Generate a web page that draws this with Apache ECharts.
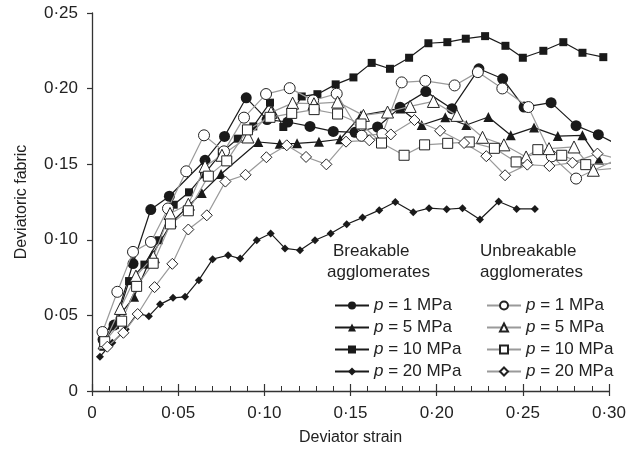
<!DOCTYPE html>
<html>
<head>
<meta charset="utf-8">
<script src="https://cdn.jsdelivr.net/npm/echarts@6/dist/echarts.min.js"></script>
<style>
  html, body { margin: 0; padding: 0; background: #fff; }
  #chart-container { width: 643px; height: 457px; }
</style>
</head>
<body>
<div id="chart-container"></div>
<script>
// values (strain, fabric)
const pressures = [1, 5, 10, 20];

const b1Strain = [0.0064, 0.0128, 0.0238, 0.0341, 0.0449, 0.0656, 0.0769, 0.0895, 0.1016, 0.1136, 0.1265, 0.1400, 0.1526, 0.1657, 0.1788, 0.1937, 0.2089, 0.2245, 0.2383, 0.2507, 0.2664, 0.2809, 0.2938, 0.3035];
const b1Fabric = [0.034, 0.0436, 0.0843, 0.120, 0.1288, 0.1526, 0.1684, 0.1939, 0.1795, 0.1779, 0.175, 0.1717, 0.1711, 0.1746, 0.1876, 0.198, 0.1867, 0.2131, 0.2065, 0.1878, 0.1907, 0.1755, 0.1695, 0.1638];

const b5Strain = [0.007, 0.0116, 0.0244, 0.0348, 0.0464, 0.0637, 0.0749, 0.0965, 0.1089, 0.119, 0.1317, 0.144, 0.1561, 0.1789, 0.1913, 0.205, 0.2172, 0.23, 0.243, 0.2565, 0.2703, 0.2846, 0.2942];
const b5Fabric = [0.030, 0.0436, 0.0623, 0.0898, 0.1116, 0.131, 0.1435, 0.1647, 0.1635, 0.1638, 0.1648, 0.1665, 0.1823, 0.1869, 0.1759, 0.181, 0.1759, 0.1812, 0.1691, 0.1742, 0.1686, 0.1691, 0.153];

const b10Strain = [0.0064, 0.0133, 0.0215, 0.0304, 0.0387, 0.0474, 0.0563, 0.065, 0.0753, 0.0846, 0.0936, 0.1033, 0.111, 0.1217, 0.1308, 0.1414, 0.1517, 0.1623, 0.1729, 0.184, 0.1952, 0.2062, 0.2169, 0.2281, 0.2399, 0.25, 0.2619, 0.2735, 0.2846, 0.2967];
const b10Fabric = [0.0317, 0.0436, 0.0727, 0.0836, 0.0997, 0.1232, 0.1314, 0.1433, 0.1579, 0.1669, 0.175, 0.1907, 0.1746, 0.1948, 0.1963, 0.2028, 0.2074, 0.217, 0.2131, 0.2204, 0.23, 0.2307, 0.233, 0.2347, 0.2283, 0.2204, 0.225, 0.2307, 0.2237, 0.2208];

const b20Strain = [0.0046, 0.0118, 0.0196, 0.0263, 0.033, 0.0395, 0.047, 0.054, 0.062, 0.070, 0.079, 0.086, 0.0956, 0.1037, 0.112, 0.1207, 0.1294, 0.1385, 0.1478, 0.157, 0.1667, 0.176, 0.1864, 0.1956, 0.2058, 0.215, 0.2251, 0.236, 0.2464, 0.257];
const b20Fabric = [0.0227, 0.0319, 0.0408, 0.0513, 0.0495, 0.0573, 0.0616, 0.0623, 0.0733, 0.0872, 0.0898, 0.0876, 0.0997, 0.1042, 0.0943, 0.0931, 0.0997, 0.1042, 0.1103, 0.1147, 0.1196, 0.125, 0.1182, 0.1209, 0.1202, 0.1209, 0.1134, 0.1253, 0.1204, 0.1204];

const u1Strain = [0.0061, 0.0147, 0.0238, 0.0342, 0.0441, 0.0547, 0.065, 0.0766, 0.0882, 0.101, 0.1147, 0.1283, 0.142, 0.1565, 0.1685, 0.1797, 0.1934, 0.2104, 0.2239, 0.2381, 0.2532, 0.2668, 0.2809, 0.3035];
const u1Fabric = [0.039, 0.0656, 0.092, 0.0986, 0.1207, 0.1453, 0.1691, 0.1585, 0.1808, 0.1964, 0.2003, 0.1922, 0.1966, 0.1688, 0.17, 0.2041, 0.2051, 0.2021, 0.2109, 0.2001, 0.1878, 0.1552, 0.1405, 0.1526];

const u5Strain = [0.007, 0.0165, 0.0255, 0.0356, 0.0453, 0.0559, 0.0656, 0.0754, 0.0905, 0.1039, 0.1164, 0.1288, 0.1425, 0.1575, 0.1715, 0.1846, 0.1981, 0.2117, 0.2266, 0.239, 0.2519, 0.2652, 0.2797, 0.2909, 0.3041];
const u5Fabric = [0.0317, 0.0546, 0.076, 0.0887, 0.1174, 0.1235, 0.1486, 0.1559, 0.168, 0.1843, 0.1904, 0.19, 0.1911, 0.1823, 0.1845, 0.1882, 0.1915, 0.1823, 0.1678, 0.1628, 0.1548, 0.1603, 0.1614, 0.146, 0.1473];

const u10Strain = [0.0074, 0.0172, 0.0259, 0.0355, 0.0455, 0.0559, 0.0675, 0.0782, 0.0902, 0.1033, 0.1159, 0.1289, 0.1425, 0.1561, 0.168, 0.1811, 0.193, 0.2064, 0.2189, 0.2335, 0.2461, 0.2587, 0.2726, 0.2865, 0.3041];
const u10Fabric = [0.0326, 0.0462, 0.0692, 0.0845, 0.1105, 0.1192, 0.1421, 0.1522, 0.1727, 0.181, 0.1836, 0.1861, 0.1832, 0.1766, 0.164, 0.1559, 0.1628, 0.1638, 0.1647, 0.1605, 0.1515, 0.1596, 0.1559, 0.1497, 0.1506];

const u20Strain = [0.0089, 0.0182, 0.0265, 0.0363, 0.0466, 0.0559, 0.0666, 0.0774, 0.0891, 0.1012, 0.113, 0.1242, 0.136, 0.1474, 0.1609, 0.1734, 0.1871, 0.202, 0.2159, 0.2288, 0.2397, 0.2526, 0.2654, 0.2788, 0.2933, 0.3041];
const u20Fabric = [0.0293, 0.0385, 0.0509, 0.0687, 0.0841, 0.1068, 0.1162, 0.1385, 0.143, 0.1546, 0.1625, 0.1548, 0.1499, 0.1649, 0.1658, 0.1697, 0.1792, 0.1721, 0.164, 0.1553, 0.1427, 0.1497, 0.1488, 0.151, 0.157, 0.1539];

const yTicks = [0, 0.05, 0.10, 0.15, 0.20, 0.25];

const FONT = 'Liberation Sans, Arial, sans-serif';
const BLACK = '#1a1a1a';
const GREY = '#9a9a9a';

// points past the axis end only carry the line on to the frame edge
const pts = (xs, ys) => xs.map((x, i) => x > 0.30
    ? { value: [x, ys[i]], symbol: 'none' }
    : [x, ys[i]]);

const makeSeries = (name, xs, ys, symbol, size, open) => ({
    name: name,
    type: 'line',
    data: pts(xs, ys),
    symbol: symbol,
    symbolSize: size,
    showAllSymbol: true,
    clip: false,
    lineStyle: { color: open ? GREY : BLACK, width: 1.2 },
    itemStyle: open
        ? { color: '#fff', borderColor: '#222', borderWidth: 1 }
        : { color: BLACK, borderWidth: 0 },
    emphasis: { disabled: true },
    z: open ? 3 : 2
});

const legendText = (name) => '{i|p} = ' + name.slice(1) + ' MPa';
const legendRich = { i: { fontStyle: 'italic', fontSize: 17, fontFamily: FONT, color: '#222' } };

var chartDom = document.getElementById('chart-container');
var myChart = echarts.init(chartDom);
var option;

option = {
    animation: false,
    backgroundColor: '#fff',
    grid: { left: 92, right: 34, top: 13, bottom: 66 },
    xAxis: [
        {
            type: 'value',
            min: 0,
            max: 0.30,
            interval: 0.05,
            name: 'Deviator strain',
            nameLocation: 'middle',
            nameGap: 39,
            nameTextStyle: { fontFamily: FONT, fontSize: 16, color: '#222' },
            axisLine: { lineStyle: { color: '#333', width: 1.3 } },
            axisTick: { inside: true, length: 7, lineStyle: { color: '#333', width: 1.2 } },
            minorTick: { show: true, splitNumber: 5, length: 5, lineStyle: { color: '#333', width: 1 } },
            splitLine: { show: false },
            axisLabel: {
                margin: 14,
                fontFamily: FONT, fontSize: 17, color: '#222',
                formatter: v => v === 0 ? '0' : v.toFixed(2).replace('.', '\u00b7')
            }
        },
        {
            // downward half of the major ticks
            type: 'value',
            min: 0,
            max: 0.30,
            interval: 0.05,
            position: 'bottom',
            axisLine: { show: false },
            axisTick: { inside: false, length: 5, lineStyle: { color: '#333', width: 1.2 } },
            axisLabel: { show: false },
            splitLine: { show: false }
        }
    ],
    yAxis: {
        type: 'value',
        min: yTicks[0],
        max: yTicks[yTicks.length - 1],
        interval: 0.05,
        name: 'Deviatoric fabric',
        nameLocation: 'middle',
        nameGap: 62,
        nameTextStyle: { fontFamily: FONT, fontSize: 16, color: '#222' },
        axisLine: { show: true, lineStyle: { color: '#333', width: 1.3 } },
        axisTick: { show: true, length: 5, lineStyle: { color: '#333', width: 1.2 } },
        splitLine: { show: false },
        axisLabel: {
            margin: 14,
            fontFamily: FONT, fontSize: 17, color: '#222',
            formatter: v => v === 0 ? '0' : v.toFixed(2).replace('.', '\u00b7')
        }
    },
    legend: [
        {
            data: ['b1', 'b5', 'b10', 'b20'],
            orient: 'vertical',
            left: 329, top: 292,
            itemWidth: 34, itemHeight: 10, itemGap: 5,
            selectedMode: false,
            formatter: legendText,
            textStyle: { fontFamily: FONT, fontSize: 17, color: '#222', rich: legendRich }
        },
        {
            data: ['u1', 'u5', 'u10', 'u20'],
            orient: 'vertical',
            left: 481, top: 292,
            itemWidth: 34, itemHeight: 10, itemGap: 5,
            selectedMode: false,
            formatter: legendText,
            textStyle: { fontFamily: FONT, fontSize: 17, color: '#222', rich: legendRich }
        }
    ],
    graphic: [
        { type: 'text', left: 333, top: 243, style: { text: 'Breakable', font: '17px ' + FONT, fill: '#222' } },
        { type: 'text', left: 327, top: 264, style: { text: 'agglomerates', font: '17px ' + FONT, fill: '#222' } },
        { type: 'text', left: 480, top: 243, style: { text: 'Unbreakable', font: '17px ' + FONT, fill: '#222' } },
        { type: 'text', left: 480, top: 264, style: { text: 'agglomerates', font: '17px ' + FONT, fill: '#222' } }
    ],
    series: [
        makeSeries('b1', b1Strain, b1Fabric, 'circle', 11, false),
        makeSeries('b5', b5Strain, b5Fabric, 'triangle', 10, false),
        makeSeries('b10', b10Strain, b10Fabric, 'rect', 8, false),
        makeSeries('b20', b20Strain, b20Fabric, 'diamond', 8, false),
        makeSeries('u1', u1Strain, u1Fabric, 'circle', 11, true),
        makeSeries('u5', u5Strain, u5Fabric, 'triangle', 12, true),
        makeSeries('u10', u10Strain, u10Fabric, 'rect', 10, true),
        makeSeries('u20', u20Strain, u20Fabric, 'diamond', 11, true)
    ]
};

option && myChart.setOption(option);
</script>
</body>
</html>
